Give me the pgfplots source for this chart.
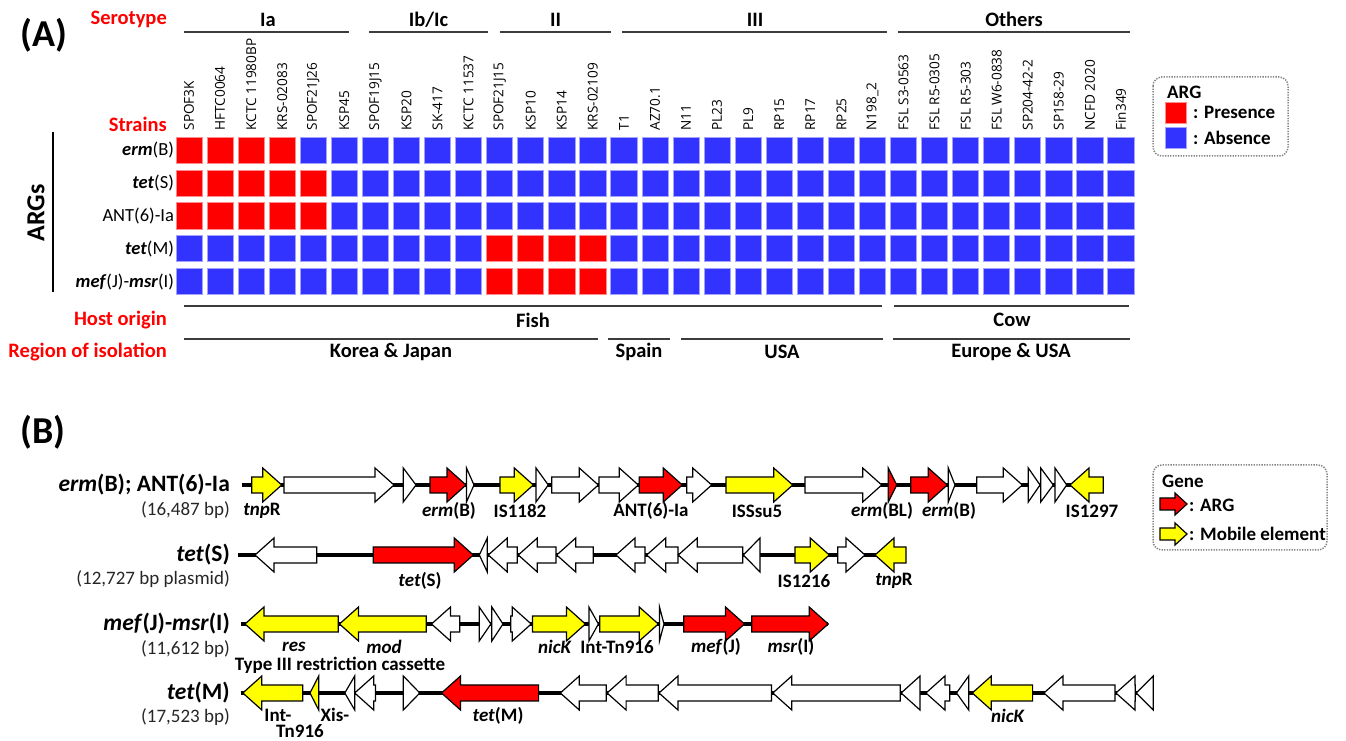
\documentclass[border=0pt]{standalone}
\usepackage{pgfplots}
\pgfplotsset{compat=1.18}
\usepackage{fontspec}
\setmainfont{Carlito}
\newfontfamily\strainfont{Open Sans}

\definecolor{presred}{RGB}{255,0,0}
\definecolor{absblue}{RGB}{51,51,255}
\definecolor{geneyel}{RGB}{255,255,0}
\definecolor{lblred}{RGB}{255,0,0}
\definecolor{linegray}{RGB}{60,60,60}
\definecolor{boxgray}{RGB}{130,130,130}

\newcommand{\fs}[1]{\fontsize{#1}{#1}\selectfont}

% one gene as an arrow polygon:
% #1 centre y, #2 tail x, #3 tip x, #4 fill, #5 body half-height, #6 head half-height, #7 head length
\newcommand{\arrowgene}[7]{%
  \pgfmathsetmacro{\ga}{abs(#3-(#2))}%
  \pgfmathsetmacro{\gh}{min(#7,\ga)}%
  \pgfmathsetmacro{\gx}{#3-sign(#3-(#2))*\gh}%
  \pgfmathsetmacro{\gyb}{#1-#5}%
  \pgfmathsetmacro{\gyt}{#1+#5}%
  \pgfmathsetmacro{\gyB}{#1-#6}%
  \pgfmathsetmacro{\gyT}{#1+#6}%
  \addplot[draw=black, line width=1.2pt, line join=miter, fill=#4]
    coordinates {(#2,\gyb) (\gx,\gyb) (\gx,\gyB) (#3,#1) (\gx,\gyT) (\gx,\gyt) (#2,\gyt)} -- cycle;
}
\newcommand{\gene}[4]{\arrowgene{#1}{#2}{#3}{#4}{8}{17}{19}}
\newcommand{\backbone}[3]{\addplot[black, line width=3.6pt] coordinates {(#2,#1) (#3,#1)};}

\tikzset{
  lbl/.style={inner sep=0pt, font=\bfseries\fs{19}},
  redlbl/.style={inner sep=0pt, anchor=east, text=lblred, font=\bfseries\fs{20.5}},
  grp/.style={inner sep=0pt, font=\bfseries\fs{20.5}},
  rowlbl/.style={inner sep=0pt, anchor=east, font=\bfseries\fs{23.5}},
  sizelbl/.style={inner sep=0pt, anchor=east, text=black!85, font=\fs{19}},
  brk/.style={draw=linegray, line width=1.8pt},
  legbox/.style={draw=boxgray, line width=1.5pt, dash pattern=on 1.3pt off 1.3pt, rounded corners=9pt},
}

\begin{document}
\begin{tikzpicture}
% ---------- frame for texts, brackets and the gene maps (1 unit = 1pt) ----------
\begin{axis}[
  at={(0pt,0pt)}, anchor=south west,
  scale only axis, width=1346pt, height=741pt,
  xmin=0, xmax=1346, ymin=-741, ymax=0,
  hide axis, clip=false,
]
\path (rel axis cs:0,0) rectangle (rel axis cs:1,1);

% ===== panel A annotations =====
\node[anchor=west, inner sep=0pt, font=\bfseries\fs{38}] at (20,-35) {(A)};
\node[redlbl] at (167,-19.5) {Serotype};
\node[redlbl] at (167,-124) {Strains};
\node[redlbl] at (167,-320) {Host origin};
\node[redlbl] at (167,-352) {Region of isolation};

\node[grp] at (268,-19.5) {Ia};
\node[grp] at (428.5,-19.5) {Ib/Ic};
\node[grp] at (555.5,-19.5) {II};
\node[grp] at (755,-19.5) {III};
\node[grp] at (1014,-19.5) {Others};
\draw[brk] (184,-32) -- (349,-32);
\draw[brk] (369,-32) -- (488,-32);
\draw[brk] (500,-32) -- (611,-32);
\draw[brk] (622,-32) -- (887,-32);
\draw[brk] (898,-32) -- (1130,-32);

\node[rotate=90, inner sep=0pt, font=\bfseries\fs{26}] at (36,-213) {ARGs};
\draw[black, line width=2pt] (53,-132) -- (53,-292);

\draw[brk] (184,-306) -- (882,-306);
\draw[brk] (894,-306) -- (1129,-306);
\node[grp] at (533,-320) {Fish};
\node[grp] at (1012,-320) {Cow};
\draw[brk] (184,-339) -- (598,-339);
\draw[brk] (608,-339) -- (670,-339);
\draw[brk] (681,-339) -- (883,-339);
\draw[brk] (893,-339) -- (1130,-339);
\node[grp] at (391,-352) {Korea \& Japan};
\node[grp] at (639,-352) {Spain};
\node[grp] at (782,-352) {USA};
\node[grp] at (1011,-352) {Europe \& USA};

% legend of panel A
\draw[legbox] (1153,-77) rectangle (1288,-156);
\node[lbl, anchor=west] at (1167,-92) {ARG};
\addplot[only marks, mark=square*, mark size=10.5pt,
  mark options={fill=presred, draw=presred!45!white, line width=0.8pt}] coordinates {(1176,-112.5)};
\addplot[only marks, mark=square*, mark size=10.5pt,
  mark options={fill=absblue, draw=absblue!45!white, line width=0.8pt}] coordinates {(1176,-138)};
\node[lbl, anchor=west] at (1193,-112) {: Presence};
\node[lbl, anchor=west] at (1193,-138) {: Absence};

% ===== panel B: gene maps =====
\node[anchor=west, inner sep=0pt, font=\bfseries\fs{38}] at (20,-432) {(B)};

\node[rowlbl] at (230,-485) {\textit{erm}(B); ANT(6)-Ia};
\node[sizelbl] at (230,-510) {(16,487 bp)};
\node[rowlbl] at (230,-555) {\textit{tet}(S)};
\node[sizelbl] at (230,-579) {(12,727 bp plasmid)};
\node[rowlbl] at (230,-624) {\textit{mef}(J)-\textit{msr}(I)};
\node[sizelbl] at (230,-649) {(11,612 bp)};
\node[rowlbl] at (230,-693) {\textit{tet}(M)};
\node[sizelbl] at (230,-717) {(17,523 bp)};

% erm(B); ANT(6)-Ia
\backbone{-485}{241.7}{1103.3}
\gene{-485}{251.7}{281.7}{geneyel}
\gene{-485}{284}{394}{white}
\gene{-485}{403.3}{416}{white}
\gene{-485}{430}{466}{presred}
\gene{-485}{466.5}{474}{white}
\gene{-485}{500}{533.3}{geneyel}
\gene{-485}{536}{548.3}{white}
\gene{-485}{551.7}{598.3}{white}
\gene{-485}{599}{638.3}{white}
\gene{-485}{639.3}{682.3}{presred}
\gene{-485}{686.7}{711.7}{white}
\gene{-485}{726}{792.7}{geneyel}
\gene{-485}{805}{881.7}{white}
\gene{-485}{888.3}{896.7}{presred}
\gene{-485}{910.7}{947.3}{presred}
\gene{-485}{948.3}{955}{white}
\gene{-485}{976.7}{1022.3}{white}
\gene{-485}{1028.3}{1040}{white}
\gene{-485}{1040.7}{1053.3}{white}
\gene{-485}{1055}{1066.7}{white}
\gene{-485}{1103.3}{1070}{geneyel}
\node[lbl] at (262,-511) {\textit{tnp}R};
\node[lbl] at (449,-511) {\textit{erm}(B)};
\node[lbl] at (520,-511) {IS1182};
\node[lbl] at (651,-511) {ANT(6)-Ia};
\node[lbl] at (757,-511) {ISSsu5};
\node[lbl] at (882,-511) {\textit{erm}(BL)};
\node[lbl] at (949,-511) {\textit{erm}(B)};
\node[lbl] at (1092,-511) {IS1297};

% tet(S)
\backbone{-555}{238.3}{906}
\gene{-555}{316.7}{255}{white}
\gene{-555}{373.3}{473.3}{presred}
\gene{-555}{487.3}{479.3}{white}
\gene{-555}{517.3}{488.3}{white}
\gene{-555}{556}{518.3}{white}
\gene{-555}{593.3}{556.7}{white}
\gene{-555}{645}{616}{white}
\gene{-555}{678}{646.7}{white}
\gene{-555}{742.7}{678.3}{white}
\gene{-555}{760}{743.3}{white}
\gene{-555}{795}{829.3}{geneyel}
\gene{-555}{837.7}{865}{white}
\gene{-555}{906}{875}{geneyel}
\node[lbl] at (420,-581) {\textit{tet}(S)};
\node[lbl] at (804,-581) {IS1216};
\node[lbl] at (894,-581) {\textit{tnp}R};

% mef(J)-msr(I)
\backbone{-624}{240.7}{828.2}
\gene{-624}{338.2}{245}{geneyel}
\gene{-624}{426.3}{339.5}{geneyel}
\gene{-624}{459.7}{431.5}{white}
\gene{-624}{479.2}{490.9}{white}
\gene{-624}{491.8}{503}{white}
\gene{-624}{510.8}{531.2}{white}
\gene{-624}{532.5}{585.4}{geneyel}
\gene{-624}{588.9}{598.4}{white}
\gene{-624}{599.7}{658.3}{geneyel}
\gene{-624}{659.5}{664}{white}
\gene{-624}{683.7}{744.5}{presred}
\gene{-624}{751.7}{828.2}{presred}
\node[lbl] at (294,-647) {\textit{res}};
\node[lbl] at (384,-647) {\textit{mod}};
\node[lbl] at (555,-647) {\textit{nicK}};
\node[lbl] at (617,-647) {Int-Tn916};
\node[lbl] at (716,-647) {\textit{mef}(J)};
\node[lbl] at (791,-647) {\textit{msr}(I)};
\node[lbl] at (340,-665) {Type III restriction cassette};

% tet(M)
\backbone{-693}{240.7}{1153.3}
\gene{-693}{302.7}{242.8}{geneyel}
\gene{-693}{318.7}{310}{geneyel}
\gene{-693}{354.7}{344.8}{white}
\gene{-693}{375.5}{354.7}{white}
\gene{-693}{403.3}{419.8}{white}
\gene{-693}{538.6}{441.5}{presred}
\gene{-693}{606.2}{560.3}{white}
\gene{-693}{658.3}{607.1}{white}
\gene{-693}{771.5}{659}{white}
\gene{-693}{900.2}{772.8}{white}
\gene{-693}{920}{901.1}{white}
\gene{-693}{949.8}{925.9}{white}
\gene{-693}{968.7}{956.5}{white}
\gene{-693}{1032.6}{972.3}{geneyel}
\gene{-693}{1115}{1043.9}{white}
\gene{-693}{1135.3}{1115.9}{white}
\gene{-693}{1153.3}{1136.2}{white}
\node[lbl] at (278,-715) {Int-};
\node[lbl] at (300,-731) {Tn916};
\node[lbl] at (335,-715) {Xis-};
\node[lbl] at (498,-716) {\textit{tet}(M)};
\node[lbl] at (1008,-716) {\textit{nicK}};

% legend of panel B
\draw[legbox] (1153,-465) rectangle (1327,-550);
\node[lbl, anchor=west] at (1162,-481) {Gene};
\arrowgene{-504}{1160}{1187}{presred}{6}{11}{12}
\arrowgene{-534}{1160}{1187}{geneyel}{6}{11}{12}
\node[lbl, anchor=west] at (1189,-505) {: ARG};
\node[lbl, anchor=west] at (1189,-534) {: Mobile element};
\end{axis}

% ---------- presence / absence matrix (1 = presence, 0 = absence) ----------
\begin{axis}[
  at={(173.5pt,443pt)}, anchor=south west,
  scale only axis, width=963pt, height=164pt,
  xmin=-0.5, xmax=30.5, ymin=-0.5, ymax=4.5,
  axis line style={draw=none}, tick style={draw=none}, major tick length=0pt,
  xtick={0,...,30}, xticklabel pos=upper,
  xticklabels={SPOF3K, HFTC0064, KCTC 11980BP, KRS-02083, SPOF21J26, KSP45,
    SPOF19J15, KSP20, SK-417, KCTC 11537, SPOF21J15, KSP10, KSP14, KRS-02109,
    T1, AZ70.1, N11, PL23, PL9, RP15, RP17, RP25, N198\_2,
    FSL S3-0563, FSL R5-0305, FSL R5-303, FSL W6-0838, SP204-42-2, SP158-29, NCFD 2020, Fin349},
  x tick label style={rotate=90, anchor=west, font=\strainfont\fs{13.6}},
  ytick={0,...,4},
  yticklabels={\textbf{\textit{mef}}(J)-\textbf{\textit{msr}}(I), \textbf{\textit{tet}}(M), ANT(6)-Ia, \textbf{\textit{tet}}(S), \textbf{\textit{erm}}(B)},
  y tick label style={anchor=east, xshift=4pt, font=\fs{18.5}},
  colormap={argmap}{color(0)=(absblue); color(1)=(presred)},
  point meta min=0, point meta max=1,
]
\addplot[scatter, only marks, mark=square*, mark size=13.1pt, point meta=explicit,
  mark options={line width=0.8pt},
  scatter/use mapped color={draw=mapped color!45!white, fill=mapped color}]
coordinates {
% erm(B)
(0,4)[1] (1,4)[1] (2,4)[1] (3,4)[1] (4,4)[0] (5,4)[0] (6,4)[0] (7,4)[0] (8,4)[0] (9,4)[0] (10,4)[0] (11,4)[0] (12,4)[0] (13,4)[0] (14,4)[0] (15,4)[0]
(16,4)[0] (17,4)[0] (18,4)[0] (19,4)[0] (20,4)[0] (21,4)[0] (22,4)[0] (23,4)[0] (24,4)[0] (25,4)[0] (26,4)[0] (27,4)[0] (28,4)[0] (29,4)[0] (30,4)[0]
% tet(S)
(0,3)[1] (1,3)[1] (2,3)[1] (3,3)[1] (4,3)[1] (5,3)[0] (6,3)[0] (7,3)[0] (8,3)[0] (9,3)[0] (10,3)[0] (11,3)[0] (12,3)[0] (13,3)[0] (14,3)[0] (15,3)[0]
(16,3)[0] (17,3)[0] (18,3)[0] (19,3)[0] (20,3)[0] (21,3)[0] (22,3)[0] (23,3)[0] (24,3)[0] (25,3)[0] (26,3)[0] (27,3)[0] (28,3)[0] (29,3)[0] (30,3)[0]
% ANT(6)-Ia
(0,2)[1] (1,2)[1] (2,2)[1] (3,2)[1] (4,2)[1] (5,2)[0] (6,2)[0] (7,2)[0] (8,2)[0] (9,2)[0] (10,2)[0] (11,2)[0] (12,2)[0] (13,2)[0] (14,2)[0] (15,2)[0]
(16,2)[0] (17,2)[0] (18,2)[0] (19,2)[0] (20,2)[0] (21,2)[0] (22,2)[0] (23,2)[0] (24,2)[0] (25,2)[0] (26,2)[0] (27,2)[0] (28,2)[0] (29,2)[0] (30,2)[0]
% tet(M)
(0,1)[0] (1,1)[0] (2,1)[0] (3,1)[0] (4,1)[0] (5,1)[0] (6,1)[0] (7,1)[0] (8,1)[0] (9,1)[0] (10,1)[1] (11,1)[1] (12,1)[1] (13,1)[1] (14,1)[0] (15,1)[0]
(16,1)[0] (17,1)[0] (18,1)[0] (19,1)[0] (20,1)[0] (21,1)[0] (22,1)[0] (23,1)[0] (24,1)[0] (25,1)[0] (26,1)[0] (27,1)[0] (28,1)[0] (29,1)[0] (30,1)[0]
% mef(J)-msr(I)
(0,0)[0] (1,0)[0] (2,0)[0] (3,0)[0] (4,0)[0] (5,0)[0] (6,0)[0] (7,0)[0] (8,0)[0] (9,0)[0] (10,0)[1] (11,0)[1] (12,0)[1] (13,0)[1] (14,0)[0] (15,0)[0]
(16,0)[0] (17,0)[0] (18,0)[0] (19,0)[0] (20,0)[0] (21,0)[0] (22,0)[0] (23,0)[0] (24,0)[0] (25,0)[0] (26,0)[0] (27,0)[0] (28,0)[0] (29,0)[0] (30,0)[0]
};
\end{axis}
\end{tikzpicture}
\end{document}
